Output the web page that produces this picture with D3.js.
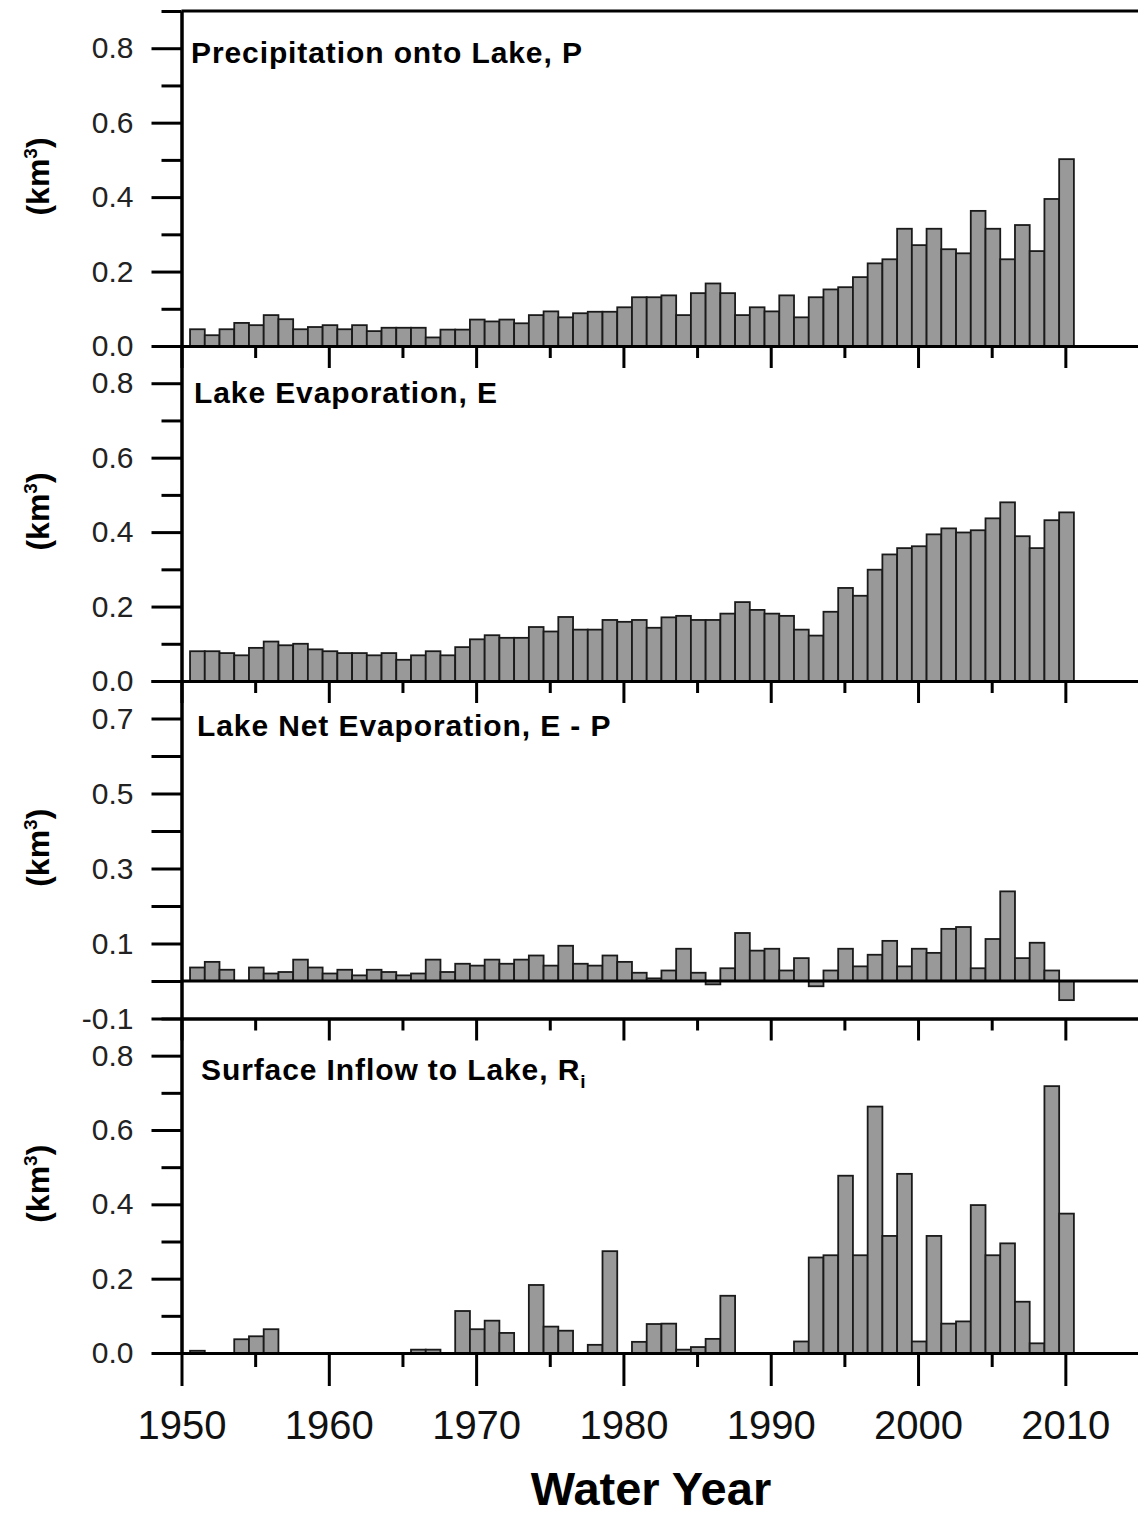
<!DOCTYPE html>
<html>
<head>
<meta charset="utf-8">
<script src="https://cdn.jsdelivr.net/npm/d3@7"></script>
<style>
  html, body { margin: 0; padding: 0; background: #fff; }
  svg { display: block; }
</style>
</head>
<body>
<svg id="chart" width="1138" height="1517"></svg>
<script>
// ---------- DATA ----------
const years = [1951,1952,1953,1954,1955,1956,1957,1958,1959,1960,
               1961,1962,1963,1964,1965,1966,1967,1968,1969,1970,
               1971,1972,1973,1974,1975,1976,1977,1978,1979,1980,
               1981,1982,1983,1984,1985,1986,1987,1988,1989,1990,
               1991,1992,1993,1994,1995,1996,1997,1998,1999,2000,
               2001,2002,2003,2004,2005,2006,2007,2008,2009,2010];

const precipitation = [.045,.029,.045,.062,.056,.083,.072,.045,.051,.056,
                       .045,.056,.040,.049,.049,.049,.023,.044,.044,.071,
                       .066,.071,.061,.083,.093,.077,.088,.092,.092,.104,
                       .131,.131,.136,.083,.142,.168,.142,.083,.104,.093,
                       .136,.077,.131,.152,.158,.185,.222,.233,.315,.271,
                       .315,.260,.249,.363,.315,.233,.325,.255,.395,.502];

const evaporation = [.080,.080,.075,.069,.089,.106,.096,.100,.085,.080,
                     .075,.075,.069,.075,.057,.069,.080,.069,.091,.112,
                     .123,.116,.116,.145,.133,.172,.138,.138,.164,.159,
                     .164,.143,.171,.175,.164,.164,.181,.212,.191,.181,
                     .175,.138,.122,.186,.250,.229,.299,.340,.357,.362,
                     .394,.410,.399,.405,.437,.480,.389,.357,.432,.453];

const netEvaporation = [.036,.051,.030,.000,.036,.020,.024,.057,.036,.020,
                        .030,.015,.030,.024,.015,.020,.057,.024,.046,.041,
                        .057,.046,.057,.068,.041,.094,.046,.041,.068,.051,
                        .022,.007,.028,.086,.022,-.009,.034,.128,.081,.086,
                        .028,.061,-.014,.028,.086,.039,.070,.107,.039,.086,
                        .075,.139,.144,.034,.112,.239,.061,.102,.028,-.051];

const inflow = [.006,0,0,.037,.045,.064,0,0,0,0,
                0,0,0,0,0,.009,.009,0,.113,.064,
                .087,.054,0,.183,.071,.060,0,.022,.274,0,
                .030,.078,.079,.009,.016,.038,.154,0,0,0,
                0,.031,.257,.263,.477,.263,.663,.315,.482,.031,
                .315,.079,.085,.398,.263,.295,.138,.026,.718,.375];

const panelTitles = ["Precipitation onto Lake, P", "Lake Evaporation, E",
                     "Lake Net Evaporation, E - P", "Surface Inflow to Lake, R"];
const xMajorTicks = [1950,1960,1970,1980,1990,2000,2010];
const xMinorTicks = [1955,1965,1975,1985,1995,2005,2015];
const yMajorA = [0, 0.2, 0.4, 0.6, 0.8];
const yMinorA = [0.1, 0.3, 0.5, 0.7, 0.9];
const yMajorC = [-0.1, 0.1, 0.3, 0.5, 0.7];
const yMinorC = [0, 0.2, 0.4, 0.6, 0.8];
const xLabel = "Water Year";
const yUnit = "(km";

// ---------- LAYOUT ----------
const svg = d3.select("#chart");
svg.append("rect").attr("width",1138).attr("height",1517).attr("fill","#fff");

const x = d3.scaleLinear().domain([1950, 2015]).range([181.5, 1139]);

const panels = [
  { values: precipitation,  domain:[0,0.9],   range:[346,11],      majors:yMajorA, minors:yMinorA, minorLen:20, title:[191,63] },
  { values: evaporation,    domain:[0,0.9],   range:[681,346],     majors:yMajorA, minors:yMinorA, minorLen:20, title:[194,403] },
  { values: netEvaporation, domain:[-0.1,0.8],range:[1018.5,681],  majors:yMajorC, minors:yMinorC, minorLen:30, title:[197,736] },
  { values: inflow,         domain:[0,0.9],   range:[1353,1018.5], majors:yMajorA, minors:yMinorA, minorLen:20, title:[201,1080] }
];

const FONT = "'Liberation Sans', Arial, Helvetica, sans-serif";
const barLeft = 0.42, barRight = 0.58;

panels.forEach((p, i) => {
  const y = d3.scaleLinear().domain(p.domain).range(p.range);
  const g = svg.append("g");

  // bars
  const data = years.map((yr, k) => ({ yr, v: p.values[k] })).filter(d => d.v !== 0);
  g.selectAll("rect.bar").data(data).join("rect")
    .attr("class","bar")
    .attr("x", d => x(d.yr - barLeft))
    .attr("width", d => x(d.yr + barRight) - x(d.yr - barLeft))
    .attr("y", d => Math.min(y(d.v), y(0)))
    .attr("height", d => Math.abs(y(d.v) - y(0)))
    .attr("fill", "#999999")
    .attr("stroke", "#1a1a1a")
    .attr("stroke-width", 1.8);

  // y axis majors
  const ax = g.append("g").attr("transform", `translate(${x(1950)},0)`)
    .call(d3.axisLeft(y).tickValues(p.majors).tickSize(30).tickSizeOuter(0)
      .tickPadding(18).tickFormat(d3.format(".1f")));
  ax.selectAll("text").attr("font-family", FONT).attr("font-size", 30).attr("fill", "#222")
    .text(d => d3.format(".1f")(d).replace("−","-"));
  // y axis minors
  g.append("g").attr("transform", `translate(${x(1950)},0)`)
    .call(d3.axisLeft(y).tickValues(p.minors).tickSize(p.minorLen).tickSizeOuter(0).tickFormat(""));

  // bottom x-axis
  const base = p.domain[0];
  const last = i === panels.length - 1;
  const bx = g.append("g").attr("transform", `translate(0,${y(base)})`)
    .call(d3.axisBottom(x).tickValues(xMajorTicks).tickSize(last ? 33 : 22).tickSizeOuter(0)
      .tickPadding(25).tickFormat(last ? d3.format("d") : ""));
  bx.selectAll("text").attr("font-family", FONT).attr("font-size", 40).attr("fill", "#111");
  g.append("g").attr("transform", `translate(0,${y(base)})`)
    .call(d3.axisBottom(x).tickValues(xMinorTicks).tickSize(last ? 14 : 12).tickSizeOuter(0).tickFormat(""));

  // zero line for the net-evaporation panel
  if (base !== 0) {
    g.append("line").attr("x1", x(1950)).attr("x2", x(2015))
      .attr("y1", y(0)).attr("y2", y(0)).attr("stroke", "#000").attr("stroke-width", 3);
  }
  // top border for the first panel
  if (i === 0) {
    g.append("line").attr("x1", x(1950)).attr("x2", x(2015))
      .attr("y1", y(0.9)).attr("y2", y(0.9)).attr("stroke", "#000").attr("stroke-width", 3);
  }

  g.selectAll(".domain, .tick line").attr("stroke", "#000").attr("stroke-width", 3);

  // panel title
  const t = svg.append("text").attr("x", p.title[0]).attr("y", p.title[1])
    .attr("font-family", FONT).attr("font-size", 30).attr("font-weight", "bold")
    .attr("letter-spacing", "0.9px").attr("fill", "#000")
    .text(panelTitles[i]);
  if (last) {
    t.append("tspan").attr("font-size", 19).attr("dy", 8).text("i");
  }

  // y unit label
  const cy = (p.range[0] + p.range[1]) / 2 - 2;
  const yl = svg.append("text").attr("transform", `translate(40,${cy}) rotate(-90)`)
    .attr("text-anchor", "middle").attr("dy", "0.28em")
    .attr("font-family", FONT).attr("font-size", 32).attr("font-weight", "bold").attr("fill", "#000");
  yl.append("tspan").text(yUnit);
  yl.append("tspan").attr("font-size", 19).attr("dy", -12).text("3");
  yl.append("tspan").attr("dy", 12).text(")");
});

// x axis title
svg.append("text").attr("x", 651).attr("y", 1505).attr("text-anchor", "middle")
  .attr("font-family", FONT).attr("font-size", 47).attr("font-weight", "bold").attr("fill", "#000")
  .text(xLabel);
</script>
</body>
</html>
